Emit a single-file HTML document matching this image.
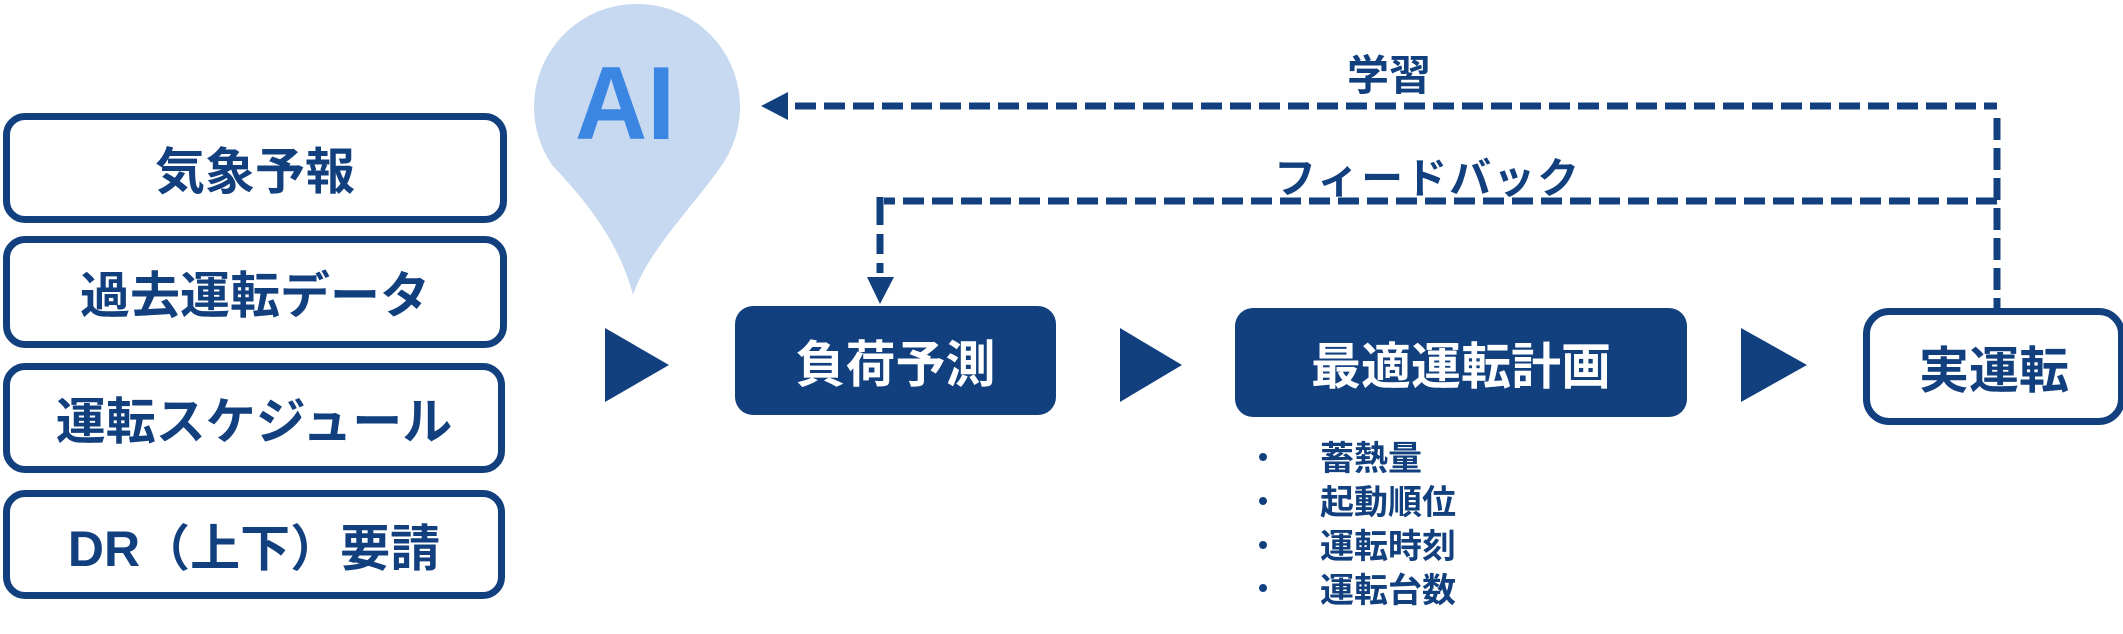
<!DOCTYPE html>
<html><head><meta charset="utf-8"><style>
html,body{margin:0;padding:0;background:#fff;}
body{width:2123px;height:634px;position:relative;overflow:hidden;font-family:"Liberation Sans","Noto Sans CJK JP",sans-serif;font-weight:bold;color:#12407f;}
.b{position:absolute;box-sizing:border-box;display:flex;align-items:center;justify-content:center;}
.o{border:7px solid #12407f;border-radius:22px;background:#fff;font-size:50px;}
.f{background:#12407f;color:#fff;border-radius:18px;font-size:50px;}
.t{position:absolute;white-space:nowrap;}
</style></head><body>
<svg width="2123" height="634" style="position:absolute;left:0;top:0">
 <path d="M552,165 A103,103 0 1,1 724,162 C695,205 648,250 633,295 C620,245 590,205 552,165 Z" fill="#c7d9f0"/>
 <text x="625" y="139" text-anchor="middle" font-family="Liberation Sans" font-weight="bold" font-size="104" fill="#3b86e3" textLength="100" lengthAdjust="spacingAndGlyphs">AI</text>
 <g stroke="#12407f" stroke-width="7" fill="none" stroke-dasharray="21 8">
  <line x1="795" y1="106" x2="1997" y2="106"/>
  <line x1="1997" y1="118" x2="1997" y2="308" stroke-dasharray="22 8"/>
  <line x1="1997" y1="201" x2="884" y2="201"/>
  <line x1="880" y1="205" x2="880" y2="273" stroke-dasharray="20 9"/>
 </g>
 <line x1="880" y1="197" x2="880" y2="206" stroke="#12407f" stroke-width="7"/>
 <polygon points="761,106 788,92 788,120" fill="#12407f"/>
 <polygon points="867,277 894,277 880,304" fill="#12407f"/>
 <polygon points="605,328 669,365 605,402" fill="#12407f"/>
 <polygon points="1120,328 1182,365 1120,402" fill="#12407f"/>
 <polygon points="1741,328 1807,365 1741,402" fill="#12407f"/>
 <g fill="#12407f"><circle cx="1263" cy="457" r="4"/><circle cx="1263" cy="501" r="4"/><circle cx="1263" cy="545" r="4"/><circle cx="1263" cy="588" r="4"/></g>
</svg>
<div class="b o" style="left:3px;top:113px;width:504px;height:110px">気象予報</div>
<div class="b o" style="left:3px;top:236px;width:504px;height:112px">過去運転データ</div>
<div class="b o" style="left:3px;top:363px;width:502px;height:110px">運転スケジュール</div>
<div class="b o" style="left:3px;top:490px;width:502px;height:109px">DR（上下）要請</div>
<div class="b f" style="left:735px;top:306px;width:321px;height:109px">負荷予測</div>
<div class="b f" style="left:1235px;top:308px;width:452px;height:109px">最適運転計画</div>
<div class="b o" style="left:1863px;top:308px;width:262px;height:117px;border-radius:26px">実運転</div>
<div class="t" style="left:1347px;top:42px;font-size:42px">学習</div>
<div class="t" style="left:1274px;top:145px;font-size:42px;letter-spacing:2px">フィードバック</div>
<div class="t" style="left:1320px;top:437px;font-size:34px;line-height:44px">蓄熱量<br>起動順位<br>運転時刻<br>運転台数</div>
</body></html>
